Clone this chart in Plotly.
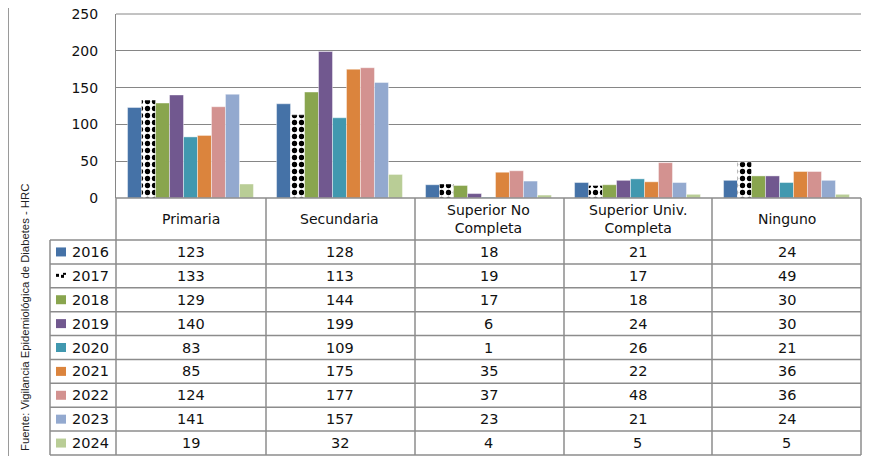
import plotly.graph_objects as go

categories = ["Primaria", "Secundaria", "Superior No<br>Completa", "Superior Univ.<br>Completa", "Ninguno"]
years = ["2016", "2017", "2018", "2019", "2020", "2021", "2022", "2023", "2024"]

v2016 = [123, 128, 18, 21, 24]
v2017 = [133, 113, 19, 17, 49]
v2018 = [129, 144, 17, 18, 30]
v2019 = [140, 199, 6, 24, 30]
v2020 = [83, 109, 1, 26, 21]
v2021 = [85, 175, 35, 22, 36]
v2022 = [124, 177, 37, 48, 36]
v2023 = [141, 157, 23, 21, 24]
v2024 = [19, 32, 4, 5, 5]

series = [v2016, v2017, v2018, v2019, v2020, v2021, v2022, v2023, v2024]
colors = ["#4572A7", "#FFFFFF", "#89A54E", "#71588F", "#4198AF",
          "#DB843D", "#D39290", "#93A9CF", "#B9CD96"]

# the page puts the figure 8px in from the top-left corner
OFF = 8
W, H = 881 - OFF, 456 - OFF
L, T = 116 - OFF, 14 - OFF
R = W - (861 - OFF)
B = H - (198 - OFF)
PW = W - L - R
PH = H - T - B


def px(x):
    return (x - OFF - L) / PW


def py(y):
    return (T + PH - (y - OFF)) / PH


fig = go.Figure()

for i, (yr, vals) in enumerate(zip(years, series)):
    marker = dict(color=colors[i], line=dict(width=0.6, color="rgba(255,255,255,0.7)"))
    if yr == "2017":
        marker["pattern"] = dict(shape=".", fgcolor="black", bgcolor="white",
                                 size=7, solidity=0.45, fillmode="replace")
    fig.add_trace(go.Bar(x=categories, y=vals, name=yr, marker=marker))

shapes = []
annotations = []
line_col = "#8C8C8C"
txt = dict(family="DejaVu Sans", size=14.5, color="#111")

# top gridline (plotly drops the one sitting on the plot edge)
shapes.append(dict(type="line", xref="paper", yref="paper", x0=0, x1=1, y0=1, y1=1,
                   line=dict(color="#868686", width=1)))

# table geometry (pixel positions in the page)
col_edges = [116, 266, 415, 564, 712, 861]
head_top, head_bot = 198, 240
row_h = (455 - head_bot) / len(years)

# horizontal lines
shapes.append(dict(type="line", xref="paper", yref="paper", x0=px(116), x1=px(861),
                   y0=py(head_top), y1=py(head_top), line=dict(color=line_col, width=1.5)))
for r in range(len(years) + 1):
    yy = head_bot + r * row_h
    shapes.append(dict(type="line", xref="paper", yref="paper", x0=px(50), x1=px(861),
                       y0=py(yy), y1=py(yy), line=dict(color=line_col, width=1.5)))
# vertical lines
for xe in col_edges:
    shapes.append(dict(type="line", xref="paper", yref="paper", x0=px(xe), x1=px(xe),
                       y0=py(head_top), y1=py(455), line=dict(color=line_col, width=1.5)))
shapes.append(dict(type="line", xref="paper", yref="paper", x0=px(50), x1=px(50),
                   y0=py(head_bot), y1=py(455), line=dict(color=line_col, width=1.5)))
# outer frame line on the left
shapes.append(dict(type="line", xref="paper", yref="paper", x0=px(8.5), x1=px(8.5),
                   y0=py(8), y1=py(456), line=dict(color="#9A9A9A", width=1)))

# header
for cat in categories:
    annotations.append(dict(x=cat, y=py((head_top + head_bot) / 2), xref="x", yref="paper",
                            text=cat, showarrow=False, xanchor="center", yanchor="middle",
                            font=dict(family="DejaVu Sans", size=14, color="#111")))

# rows
for r, (yr, vals) in enumerate(zip(years, series)):
    ky = head_bot + (r + 0.5) * row_h
    yc = py(ky)
    for cat, v in zip(categories, vals):
        annotations.append(dict(x=cat, y=yc, xref="x", yref="paper", text=str(v),
                                showarrow=False, xanchor="center", yanchor="middle",
                                font=txt))
    annotations.append(dict(x=px(70), y=yc, xref="paper", yref="paper", text=yr,
                            xanchor="left", yanchor="middle", showarrow=False, font=txt))
    # legend key
    if yr == "2017":
        for (a, b_, c_, d) in [(56, ky - 2, 59, ky + 1), (61, ky - 1, 64, ky + 2),
                               (63, ky - 3, 66, ky - 1)]:
            shapes.append(dict(type="rect", xref="paper", yref="paper", x0=px(a), x1=px(c_),
                               y0=py(b_), y1=py(d), fillcolor="black", line=dict(width=0)))
    else:
        shapes.append(dict(type="rect", xref="paper", yref="paper", x0=px(56), x1=px(66),
                           y0=py(ky - 4.5), y1=py(ky + 4.5), fillcolor=colors[r],
                           line=dict(width=0)))

# source text
annotations.append(dict(x=px(25), y=py(318), xref="paper", yref="paper",
                        text="Fuente: Vigilancia Epidemiológica de Diabetes - HRC",
                        textangle=-90, showarrow=False, xanchor="center", yanchor="middle",
                        font=dict(family="Liberation Sans Narrow, Liberation Sans",
                                  size=11.3, color="#222")))

fig.update_layout(
    width=W, height=H,
    margin=dict(l=L, r=R, t=T, b=B, autoexpand=False),
    paper_bgcolor="white", plot_bgcolor="white",
    barmode="group", bargap=0.155, bargroupgap=0,
    showlegend=False,
    shapes=shapes, annotations=annotations,
    font=dict(family="DejaVu Sans", color="#111"),
)
fig.update_xaxes(showticklabels=False, showgrid=False, zeroline=False,
                 showline=False, ticks="", automargin=False)
fig.update_yaxes(range=[0, 250], tickvals=[0, 50, 100, 150, 200, 250],
                 showgrid=True, gridcolor="#868686", ticklabeloverflow="allow",
                 gridwidth=1, zeroline=False, showline=True, linecolor="#868686",
                 linewidth=1, ticks="", ticklabelstandoff=14, automargin=False,
                 tickfont=dict(family="DejaVu Sans", size=14, color="#111"))

fig.write_html("out.html")
